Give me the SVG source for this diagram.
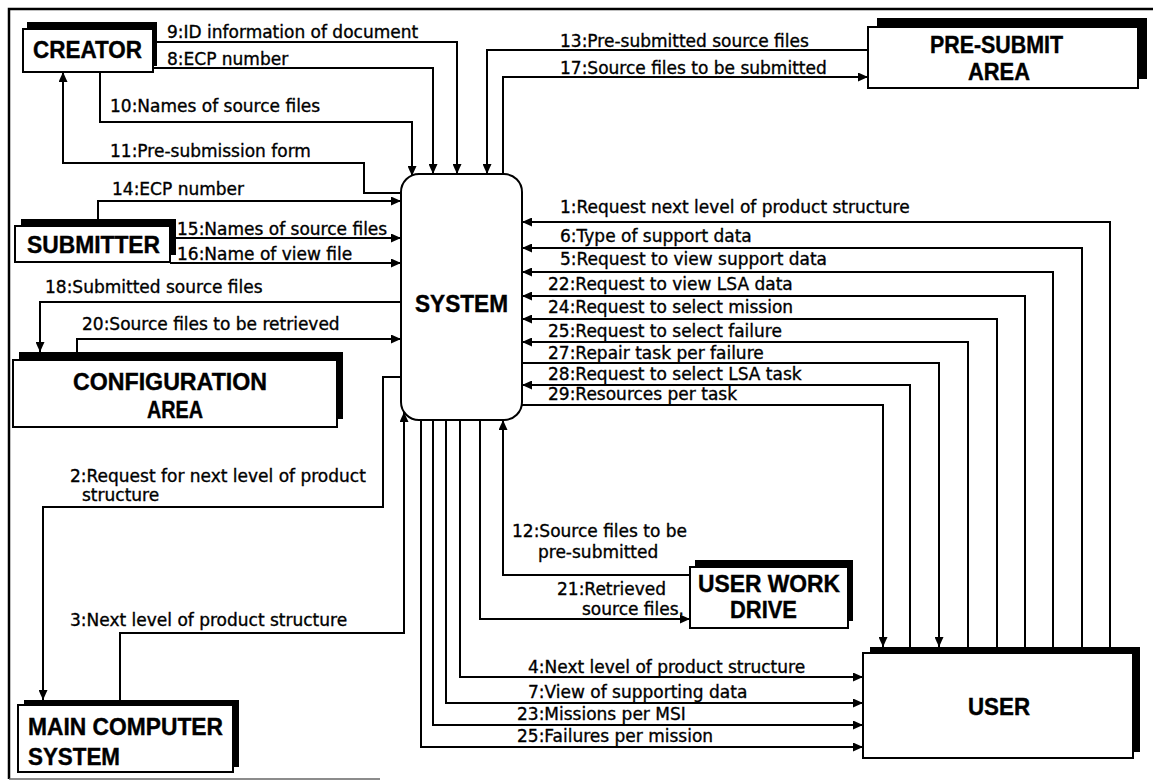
<svg xmlns="http://www.w3.org/2000/svg" width="1153" height="782" viewBox="0 0 1153 782">
<style>
.box{fill:#fff;stroke:#000;stroke-width:2}
.sh{fill:#000}
.ln{fill:none;stroke:#000;stroke-width:2}
.lbl{font-family:"DejaVu Sans",sans-serif;font-size:17px;fill:#000;stroke:#000;stroke-width:0.35}
.nd{font-family:"Liberation Sans",Arial,sans-serif;font-weight:bold;font-size:24px;fill:#000;stroke:#000;stroke-width:0.4}
.frame{fill:none;stroke:#000;stroke-width:2.5}
</style>
<defs>
<marker id="ah" markerUnits="userSpaceOnUse" markerWidth="10" markerHeight="9" refX="10" refY="4.5" orient="auto">
<path d="M0,0 L10,4.5 L0,9 z" fill="#000"/>
</marker>
</defs>
<rect width="1153" height="782" fill="#fff"/>
<path class="frame" d="M9,779 V9 H1153"/>
<path d="M9,779 H380" fill="none" stroke="#666" stroke-width="1.5"/>

<g id="connectors">
<path class="ln" marker-end="url(#ah)" d="M153,42 H457 V174"/>
<path class="ln" marker-end="url(#ah)" d="M153,68 H433 V174"/>
<path class="ln" marker-end="url(#ah)" d="M100,72 V122 H412 V176"/>
<path class="ln" marker-end="url(#ah)" d="M401,193 H364 V163 H63 V72"/>
<path class="ln" marker-end="url(#ah)" d="M868,50 H487 V174"/>
<path class="ln" marker-end="url(#ah)" d="M503,174 V77 H868"/>
<path class="ln" marker-end="url(#ah)" d="M98,219 V201 H401"/>
<path class="ln" marker-end="url(#ah)" d="M176,238 H401"/>
<path class="ln" marker-end="url(#ah)" d="M170,263 H401"/>
<path class="ln" marker-end="url(#ah)" d="M401,302 H40 V352"/>
<path class="ln" marker-end="url(#ah)" d="M77,352 V339 H401"/>
<path class="ln" marker-end="url(#ah)" d="M401,377 H383 V507 H43 V700"/>
<path class="ln" marker-end="url(#ah)" d="M120,700 V633 H404 V412"/>
<path class="ln" marker-end="url(#ah)" d="M690,575 H503 V420"/>
<path class="ln" marker-end="url(#ah)" d="M480,420 V619 H690"/>
<path class="ln" marker-end="url(#ah)" d="M460,420 V677 H863"/>
<path class="ln" marker-end="url(#ah)" d="M446,420 V703 H863"/>
<path class="ln" marker-end="url(#ah)" d="M433,420 V725 H863"/>
<path class="ln" marker-end="url(#ah)" d="M421,420 V747 H863"/>
<path class="ln" marker-end="url(#ah)" d="M1110,647 V222 H522"/>
<path class="ln" marker-end="url(#ah)" d="M1082,647 V248 H522"/>
<path class="ln" marker-end="url(#ah)" d="M1053,647 V272 H522"/>
<path class="ln" marker-end="url(#ah)" d="M1025,647 V296 H522"/>
<path class="ln" marker-end="url(#ah)" d="M997,647 V319 H522"/>
<path class="ln" marker-end="url(#ah)" d="M968,647 V342 H522"/>
<path class="ln" marker-end="url(#ah)" d="M518,363 H939 V647"/>
<path class="ln" marker-end="url(#ah)" d="M910,647 V385 H522"/>
<path class="ln" marker-end="url(#ah)" d="M515,405 H883 V647"/>
<g class="lbl">
<text x="167" y="38">9:ID information of document</text>
<text x="167" y="65">8:ECP number</text>
<text x="110" y="112">10:Names of source files</text>
<text x="110" y="157">11:Pre-submission form</text>
<text x="112" y="195">14:ECP number</text>
<text x="177" y="235">15:Names of source files</text>
<text x="177" y="260">16:Name of view file</text>
<text x="45" y="293">18:Submitted source files</text>
<text x="82" y="330">20:Source files to be retrieved</text>
<text x="560" y="47">13:Pre-submitted source files</text>
<text x="560" y="74">17:Source files to be submitted</text>
<text x="560" y="213">1:Request next level of product structure</text>
<text x="560" y="242">6:Type of support data</text>
<text x="560" y="265">5:Request to view support data</text>
<text x="548" y="290">22:Request to view LSA data</text>
<text x="548" y="313">24:Request to select mission</text>
<text x="548" y="337">25:Request to select failure</text>
<text x="548" y="359">27:Repair task per failure</text>
<text x="548" y="380">28:Request to select LSA task</text>
<text x="548" y="400">29:Resources per task</text>
<text x="70" y="482">2:Request for next level of product</text>
<text x="82" y="501">structure</text>
<text x="70" y="626">3:Next level of product structure</text>
<text x="512" y="537">12:Source files to be</text>
<text x="538" y="558">pre-submitted</text>
<text x="557" y="595">21:Retrieved</text>
<text x="582" y="615">source files.</text>
<text x="528" y="673">4:Next level of product structure</text>
<text x="528" y="698">7:View of supporting data</text>
<text x="517" y="720">23:Missions per MSI</text>
<text x="517" y="742">25:Failures per mission</text>
</g>
</g>

<g id="creator">
<rect class="sh" x="27" y="22" width="130" height="44"/>
<rect class="box" x="23" y="29" width="130" height="43"/>
<text class="nd" x="33" y="58" textLength="109" lengthAdjust="spacingAndGlyphs">CREATOR</text>
</g>
<g id="pre-submit-area">
<rect class="sh" x="877" y="18" width="270" height="61"/>
<rect class="box" x="868" y="27" width="270" height="61"/>
<text class="nd" x="930" y="53" textLength="133" lengthAdjust="spacingAndGlyphs">PRE-SUBMIT</text>
<text class="nd" x="968" y="80" textLength="62" lengthAdjust="spacingAndGlyphs">AREA</text>
</g>
<g id="submitter">
<rect class="sh" x="21" y="219" width="155" height="36"/>
<rect class="box" x="15" y="226" width="155" height="36"/>
<text class="nd" x="27" y="253" textLength="133" lengthAdjust="spacingAndGlyphs">SUBMITTER</text>
</g>
<g id="configuration-area">
<rect class="sh" x="19" y="352" width="324" height="67"/>
<rect class="box" x="13" y="360" width="324" height="67"/>
<text class="nd" x="73" y="390" textLength="194" lengthAdjust="spacingAndGlyphs">CONFIGURATION</text>
<text class="nd" x="147" y="418" textLength="56" lengthAdjust="spacingAndGlyphs">AREA</text>
</g>
<g id="system">
<rect class="box" x="401" y="174" width="121" height="246" rx="18" ry="18"/>
<text class="nd" x="415" y="312" textLength="93" lengthAdjust="spacingAndGlyphs">SYSTEM</text>
</g>
<g id="user-work-drive">
<rect class="sh" x="695" y="560" width="158" height="61"/>
<rect class="box" x="690" y="567" width="158" height="61"/>
<text class="nd" x="698" y="592" textLength="142" lengthAdjust="spacingAndGlyphs">USER WORK</text>
<text class="nd" x="730" y="618" textLength="67" lengthAdjust="spacingAndGlyphs">DRIVE</text>
</g>
<g id="user">
<rect class="sh" x="870" y="647" width="270" height="105"/>
<rect class="box" x="863" y="653" width="270" height="105"/>
<text class="nd" x="968" y="715" textLength="62" lengthAdjust="spacingAndGlyphs">USER</text>
</g>
<g id="main-computer-system">
<rect class="sh" x="24" y="700" width="215" height="67"/>
<rect class="box" x="18" y="705" width="215" height="67"/>
<text class="nd" x="28" y="735" textLength="195" lengthAdjust="spacingAndGlyphs">MAIN COMPUTER</text>
<text class="nd" x="28" y="765" textLength="92" lengthAdjust="spacingAndGlyphs">SYSTEM</text>
</g>
</svg>
